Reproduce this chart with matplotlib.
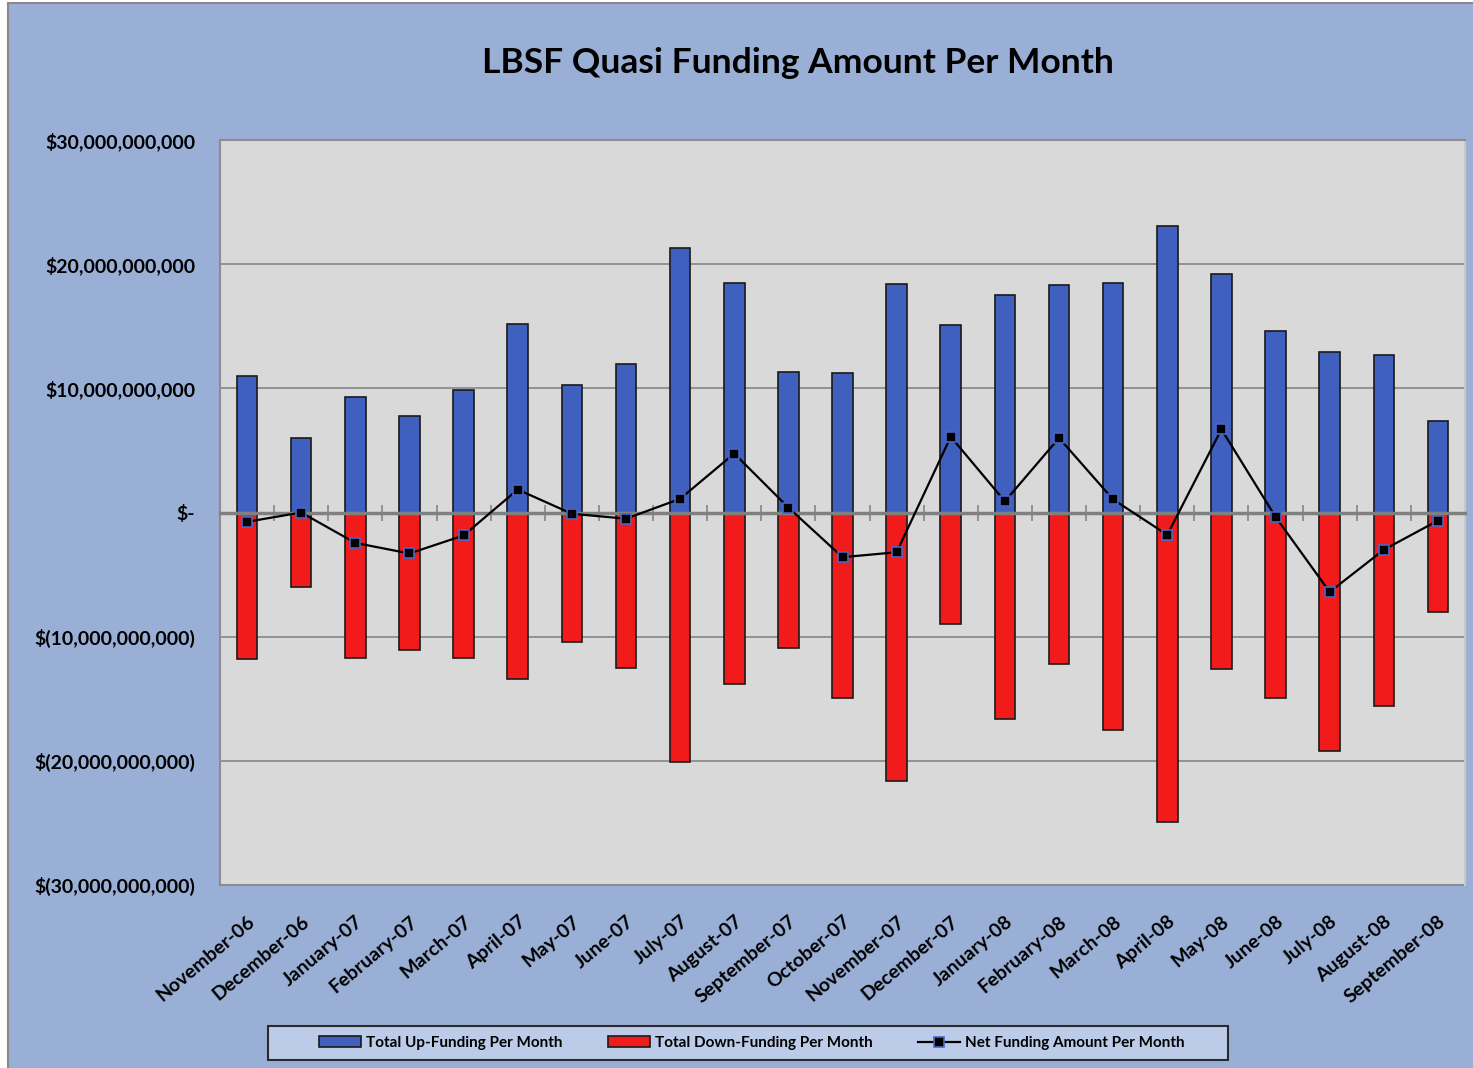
import matplotlib
matplotlib.use("Agg")
import matplotlib.pyplot as plt
from matplotlib.patches import Rectangle
from matplotlib.ticker import FuncFormatter
import numpy as np

months = ["November-06", "December-06", "January-07", "February-07", "March-07",
          "April-07", "May-07", "June-07", "July-07", "August-07", "September-07",
          "October-07", "November-07", "December-07", "January-08", "February-08",
          "March-08", "April-08", "May-08", "June-08", "July-08", "August-08",
          "September-08"]

# values in billions of dollars
up_funding = [11.0, 6.0, 9.3, 7.75, 9.85, 15.2, 10.3, 12.0, 21.3, 18.5, 11.3,
              11.2, 18.4, 15.1, 17.5, 18.3, 18.5, 23.1, 19.2, 14.6, 12.9, 12.7, 7.4]
down_funding = [-11.8, -6.0, -11.75, -11.1, -11.7, -13.4, -10.4, -12.5, -20.1,
                -13.8, -10.9, -14.9, -21.6, -9.0, -16.6, -12.2, -17.5, -24.9,
                -12.6, -14.9, -19.2, -15.6, -8.05]
net_funding = [-0.75, 0.0, -2.45, -3.3, -1.85, 1.85, -0.1, -0.5, 1.1, 4.75, 0.4,
               -3.6, -3.2, 6.1, 0.9, 6.0, 1.05, -1.8, 6.7, -0.35, -6.4, -3.0, -0.65]

W, H = 1473, 1068
bg = '#9aafd6'
plot_bg = '#d9d9d9'
grid_c = '#8c8c8c'
fnt = 'Lato'

fig = plt.figure(figsize=(W / 100, H / 100), dpi=100)
fig.patch.set_facecolor('white')
fig.patches.append(Rectangle((8 / W, -0.05), 1.1, 1 - 3 / H + 0.05,
                             transform=fig.transFigure, facecolor=bg,
                             edgecolor='#8a8a8a', linewidth=1.5, zorder=-10))

ax = fig.add_axes([220 / W, 1 - 885 / H, 1245 / W, 745 / H])
ax.set_facecolor(plot_bg)

x = np.arange(len(months))
up = np.array(up_funding) * 1e9
down = np.array(down_funding) * 1e9
net = np.array(net_funding) * 1e9

b1 = ax.bar(x, up, width=0.38, color='#4060c0', edgecolor='#1a1a1a', linewidth=1.2,
            zorder=3, label='Total Up-Funding Per Month')
b2 = ax.bar(x, down, width=0.38, color='#f21b1b', edgecolor='#1a1a1a', linewidth=1.2,
            zorder=3, label='Total Down-Funding Per Month')
l1, = ax.plot(x, net, color='black', linewidth=1.6, marker='s', markersize=7.5,
              markerfacecolor='black', markeredgecolor='#4a66c4', markeredgewidth=1.2,
              zorder=5, label='Net Funding Amount Per Month')

ax.set_xlim(-0.5, len(months) - 0.5)
ax.set_ylim(-30e9, 30e9)
ax.set_yticks(np.arange(-30e9, 31e9, 10e9))


def money(v, pos):
    b = round(v)
    if b == 0:
        return '$-'
    if b < 0:
        return '$({:,.0f})'.format(-b)
    return '${:,.0f}'.format(b)


ax.yaxis.set_major_formatter(FuncFormatter(money))
ax.tick_params(axis='y', length=0, pad=18, labelsize=14)
for lab in ax.get_yticklabels():
    lab.set_fontfamily(fnt)
    lab.set_fontweight('bold')
ax.grid(axis='y', color=grid_c, linewidth=1.3, zorder=1)

# zero axis with boundary ticks
ax.spines['bottom'].set_position(('data', 0))
ax.spines['bottom'].set_color('#808080')
ax.spines['bottom'].set_linewidth(2.5)
ax.spines['bottom'].set_zorder(4)
ax.set_xticks(np.arange(len(months) + 1) - 0.5)
ax.tick_params(axis='x', direction='inout', length=12, width=1.3,
               color='#8c8c8c', labelbottom=False)
for s in ['top', 'left', 'right']:
    ax.spines[s].set_color('#8c8c8c')
    ax.spines[s].set_linewidth(1.5)
ax.spines['right'].set_color('#c8c8c8')

sec = ax.secondary_xaxis(0.0)
sec.set_xticks(x)
sec.set_xticklabels(months, rotation=40, ha='right', rotation_mode='anchor',
                    fontsize=14, fontfamily=fnt, fontweight='bold')
sec.tick_params(length=0, pad=20)
sec.spines['bottom'].set_color('#8c8c8c')
sec.spines['bottom'].set_linewidth(1.5)

fig.text(798 / W, 1 - 63 / H, 'LBSF Quasi Funding Amount Per Month',
         ha='center', va='center', fontsize=25.5, fontweight='bold', fontfamily=fnt)

# legend box
fig.patches.append(Rectangle((268 / W, 1 - 1060 / H), 960 / W, 34 / H,
                             transform=fig.transFigure, facecolor='#bccbe8',
                             edgecolor='#2a2a2a', linewidth=1.5, zorder=1))
leg = fig.legend([b1, b2, l1],
                 [b1.get_label(), b2.get_label(), l1.get_label()],
                 loc='center', ncol=3, bbox_to_anchor=(752 / W, 1 - 1043 / H),
                 frameon=False, borderaxespad=0, columnspacing=3.0,
                 handlelength=2.75, handleheight=0.7, handletextpad=0.3,
                 prop={'family': fnt, 'weight': 'bold', 'size': 11})

fig.savefig('out.png', dpi=100)
